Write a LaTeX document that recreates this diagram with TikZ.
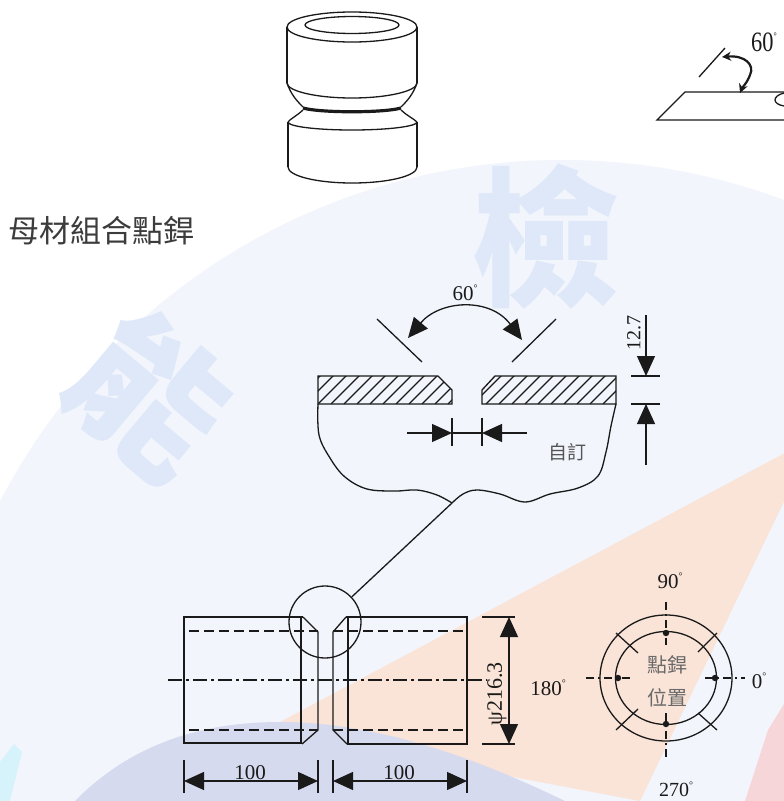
\documentclass[tikz,border=0pt]{standalone}
\usepackage{fontspec}
\setmainfont{Liberation Serif}
\newfontfamily\cjk{Noto Sans CJK TC}
\usetikzlibrary{arrows.meta}

\definecolor{ink}{HTML}{1A1A1A}
\definecolor{wmsky}{HTML}{F2F5FC}
\definecolor{wmpeach}{HTML}{FAE3D7}
\definecolor{wmpink}{HTML}{F7D6DA}
\definecolor{wmband}{HTML}{D5DAEE}
\definecolor{wmglyph}{HTML}{DEE8F9}
\definecolor{wmcyan}{HTML}{D6F2FB}
\definecolor{cjkgray}{HTML}{555555}

\newcommand{\degs}{\raisebox{0.42em}{\fontsize{10}{10}\selectfont °}}

\tikzset{
  drawing/.style={draw=ink, line width=1.3pt},
  bigtip/.style={-{Triangle[length=20pt,width=18pt]}},
  twotip/.style={{Triangle[length=20pt,width=18pt]}-{Triangle[length=20pt,width=18pt]}},
  smalltwotip/.style={{Stealth[length=9pt,width=9pt]}-{Stealth[length=9pt,width=9pt]}},
  num/.style={font=\fontsize{21}{21}\selectfont, inner sep=0pt, text=ink},
  cjklabel/.style={font=\cjk\fontsize{19}{19}\selectfont, inner sep=0pt, text=cjkgray},
  bore/.style={draw=ink, line width=1.3pt, dash pattern=on 10pt off 5pt},
  axis/.style={draw=ink, line width=1.1pt, dash pattern=on 14pt off 4pt on 3pt off 4pt},
  crossaxis/.style={draw=ink, line width=1.2pt, dash pattern=on 8pt off 4pt on 2pt off 4pt},
}

\begin{document}
\begin{tikzpicture}[x=1pt, y=-1pt]
\useasboundingbox (0,0) rectangle (784,801);
\fill[white] (0,0) rectangle (784,801);

% ---------- faint background emblem ----------
\begin{scope}
  \clip (0,0) rectangle (784,801);
  \fill[wmsky] (562,793) circle (633);
  \fill[wmpeach] (265,730) -- (815,437) -- (640,801) -- cycle;
  \fill[wmpink] (745,801) -- (768,730) -- (784,704) -- (784,801) -- cycle;
  \fill[wmband] (75,801) .. controls (130,745) and (200,722) .. (280,722)
                .. controls (380,722) and (480,760) .. (565,801) -- cycle;
  \fill[wmcyan] (0,762) -- (14,744) -- (22,752) -- (10,801) -- (0,801) -- cycle;
  \node[font=\cjk\bfseries\fontsize{150}{150}\selectfont, text=wmglyph, inner sep=0pt] (wmA) at (545,237) {檢};
  \node[font=\cjk\bfseries\fontsize{150}{150}\selectfont, text=wmglyph, inner sep=0pt, rotate=-40] (wmB) at (150,395) {能};
\end{scope}

% ---------- welded pipe sample (sketch) ----------
\begin{scope}[drawing]
  \draw (352,27) ellipse [x radius=65, y radius=15];
  \draw (352,25) ellipse [x radius=47, y radius=8.5];
  \draw (287,27) -- (287,83);
  \draw (417,27) -- (417,83);
  \draw (287,83) .. controls (287,91) and (316,98) .. (352,98)
        .. controls (388,98) and (417,91) .. (417,83);
  \draw (287,83) .. controls (291,95) and (298,102) .. (303,107);
  \draw (417,83) .. controls (413,95) and (406,102) .. (401,107);
  \draw[line width=3.2pt] (303,108) .. controls (320,113) and (384,113) .. (401,108);
  \draw (303,110) .. controls (298,115) and (290,119) .. (288,122);
  \draw (401,110) .. controls (406,115) and (414,119) .. (417,122);
  \draw (288,122) .. controls (288,126.4) and (316,130) .. (352,130)
        .. controls (388,130) and (417,126.4) .. (417,122);
  \draw (288,122) -- (288,167);
  \draw (417,122) -- (417,167);
  \draw (288,167) .. controls (288,176) and (317,183) .. (352,183)
        .. controls (388,183) and (417,176) .. (417,167);
\end{scope}

\node[font=\cjk\fontsize{31}{31}\selectfont, text=ink!85, anchor=west, inner sep=0pt] (title) at (8,231) {母材組合點銲};

% ---------- bevel angle sketch at the top right ----------
\coordinate (ta) at (699,77);
\coordinate (tb) at (725,48);
\draw[drawing] (ta) -- (tb);
\coordinate (aa) at (722,57);
\coordinate (ab) at (740,93);
\draw[drawing, line width=2.2pt, smalltwotip] (aa) .. controls (745,55) and (755,65) .. (750,75)
      .. controls (747,83) and (742,88) .. (ab);
\node[font=\fontsize{28}{28}\selectfont, inner sep=0pt, text=ink, xscale=0.8] (a60top) at (764,42) {60\degs};
\draw[drawing] (784,92) -- (685,92) -- (657,120) -- (784,120);
\draw[drawing] (784,93) .. controls (772,96) and (772,104) .. (784,106);

% ---------- joint detail ----------
\node[num] (a60) at (465,293) {60\degs};
\coordinate (arcL) at (408,338);
\coordinate (arcR) at (522,340);
\draw[drawing, twotip] (arcL) .. controls (440,300) and (490,297) .. (arcR);
\draw[drawing] (377,319) -- (422,362);
\draw[drawing] (556,319) -- (512,362);

\begin{scope}
  \clip (318,376) -- (438,376) -- (452,390) -- (452,404) -- (318,404) -- cycle;
  \foreach \i in {292,305,...,460} \draw[ink, line width=1.1pt] (\i,404) -- ++(30,-30);
\end{scope}
\begin{scope}
  \clip (495,376) -- (616,376) -- (616,404) -- (482,404) -- (482,390) -- cycle;
  \foreach \i in {460,473,...,620} \draw[ink, line width=1.1pt] (\i,404) -- ++(30,-30);
\end{scope}
\draw[drawing] (318,376) -- (438,376) -- (452,390) -- (452,404) -- (318,404) -- cycle;
\draw[drawing] (495,376) -- (616,376) -- (616,404) -- (482,404) -- (482,390) -- cycle;

\coordinate (cusp) at (452,503);
\draw[drawing] plot[smooth, tension=0.6] coordinates {(318,404) (319,435) (330,458) (345,477) (367,489) (395,491) (417,490) (437,495) (452,503)};
\draw[drawing] plot[smooth, tension=0.6] coordinates {(452,503) (463,494) (477,490) (500,494) (525,502) (550,494) (578,488) (598,476) (606,452) (611,426) (616,404)};

% root gap dimension
\coordinate (gL) at (452,433);
\coordinate (gR) at (482,433);
\draw[drawing] (gL) -- (gR);
\draw[drawing, bigtip] (407,433) -- (gL);
\draw[drawing, bigtip] (527,433) -- (gR);
\draw[drawing] (452,418) -- (452,446);
\draw[drawing] (482,418) -- (482,446);
\node[cjklabel] (self) at (567,452) {自訂};

% wall thickness dimension
\draw[drawing] (631,376) -- (660,376);
\draw[drawing] (631,404) -- (660,404);
\draw[drawing, bigtip] (646,315) -- (646,376);
\draw[drawing, bigtip] (646,465) -- (646,404);
\node[num, font=\fontsize{20}{20}\selectfont, rotate=90] (t127) at (634,333) {12.7};

% ---------- assembled pipes ----------
\draw[drawing] (303,617) -- (184,617) -- (184,743) -- (302,743);
\draw[drawing] (301,617) -- (301,743);
\draw[drawing] (303,617) -- (318,632) -- (318,730) -- (302,744);
\draw[drawing] (346,617) -- (467,617) -- (467,744) -- (347,744);
\draw[drawing] (348,617) -- (348,744);
\draw[drawing] (346,617) -- (333,632) -- (333,730) -- (347,744);
\draw[bore] (189,631) -- (318,631);
\draw[bore] (333,631) -- (463,631);
\draw[bore] (189,730) -- (318,730);
\draw[bore] (333,730) -- (463,730);
\draw[axis] (168,680) -- (487,680);

\node[draw=ink, line width=1.3pt, circle, minimum size=72pt, inner sep=0pt] (zoomring) at (325,622) {};
\draw[drawing] (cusp) -- (zoomring);

% length dimensions
\foreach \x in {184,318,333,467} \draw[drawing] (\x,760) -- (\x,793);
\draw[drawing, twotip] (184,781) -- (318,781);
\draw[drawing, twotip] (333,781) -- (467,781);
\node[num, anchor=base] (lenL) at (250,779) {100};
\node[num, anchor=base] (lenR) at (399,779) {100};

% diameter dimension
\draw[drawing] (482,617) -- (515,617);
\draw[drawing] (482,744) -- (515,744);
\draw[drawing, twotip] (509,617) -- (509,744);
\node[num, font=\fontsize{22}{22}\selectfont, rotate=90] (dia) at (497,694) {ψ216.3};

% ---------- spot weld positions ----------
\coordinate (c0) at (666,678);
\draw[drawing] (c0) ellipse [x radius=66, y radius=63];
\draw[drawing] (c0) ellipse [x radius=50.5, y radius=46.5];
\draw[crossaxis] (586,678) -- (632,678);
\draw[crossaxis] (705,678) -- (745,678);
\draw[crossaxis] (666,602) -- (666,645);
\draw[crossaxis] (666,713) -- (666,758);
\draw[drawing] (616,633) -- (638,653);
\draw[drawing] (717,633) -- (698,652);
\draw[drawing] (616,730) -- (638,709);
\draw[drawing] (717,730) -- (698,713);
\foreach \p in {(666,633),(666,724),(618,678),(715,678)} \fill[ink] \p circle (3.2);
\node[cjklabel, font=\cjk\fontsize{20}{20}\selectfont, text=ink!65] (sw1) at (667,665) {點銲};
\node[cjklabel, font=\cjk\fontsize{20}{20}\selectfont, text=ink!65] (sw2) at (667,698) {位置};
\node[num] (d90) at (670,581) {90\degs};
\node[num] (d0) at (759,681) {0\degs};
\node[num] (d180) at (548,688) {180\degs};
\node[num, font=\fontsize{20}{20}\selectfont] (d270) at (676,789) {270\degs};
\end{tikzpicture}
\end{document}
